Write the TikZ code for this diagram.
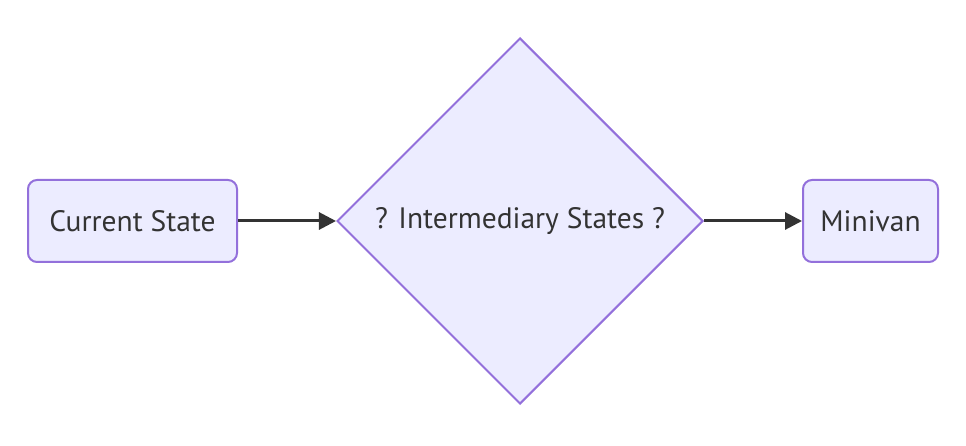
\documentclass[tikz,border=0pt]{standalone}
\usepackage{fontspec}
\setmainfont{PT Sans}
\usetikzlibrary{shapes.geometric,arrows.meta}
\definecolor{mfill}{HTML}{ECECFF}
\definecolor{mstroke}{HTML}{9370DB}
\definecolor{mtext}{HTML}{333333}
\tikzset{
  base/.style={fill=mfill,draw=mstroke,line width=2pt,text=mtext,font=\fontsize{29.5}{34}\selectfont,inner sep=0pt},
  statebox/.style={base,rectangle,rounded corners=9pt,minimum height=82pt},
  decision/.style={base,diamond,minimum width=366pt,minimum height=366pt},
  link/.style={draw=mtext,line width=3pt,-{Triangle[length=17pt,width=17pt]}}
}
\begin{document}
\begin{tikzpicture}[x=1pt,y=-1pt]
\useasboundingbox (0,0) rectangle (966,446);
\node[statebox,minimum width=209pt] (cur) at (132.5,221) {Current State};
\node[decision] (mid) at (520,221) {? Intermediary States ?};
\node[statebox,minimum width=135pt] (mini) at (870.5,221) {Minivan};
\draw[link] (cur) -- (mid);
\draw[link] (mid) -- (mini);
\end{tikzpicture}
\end{document}
